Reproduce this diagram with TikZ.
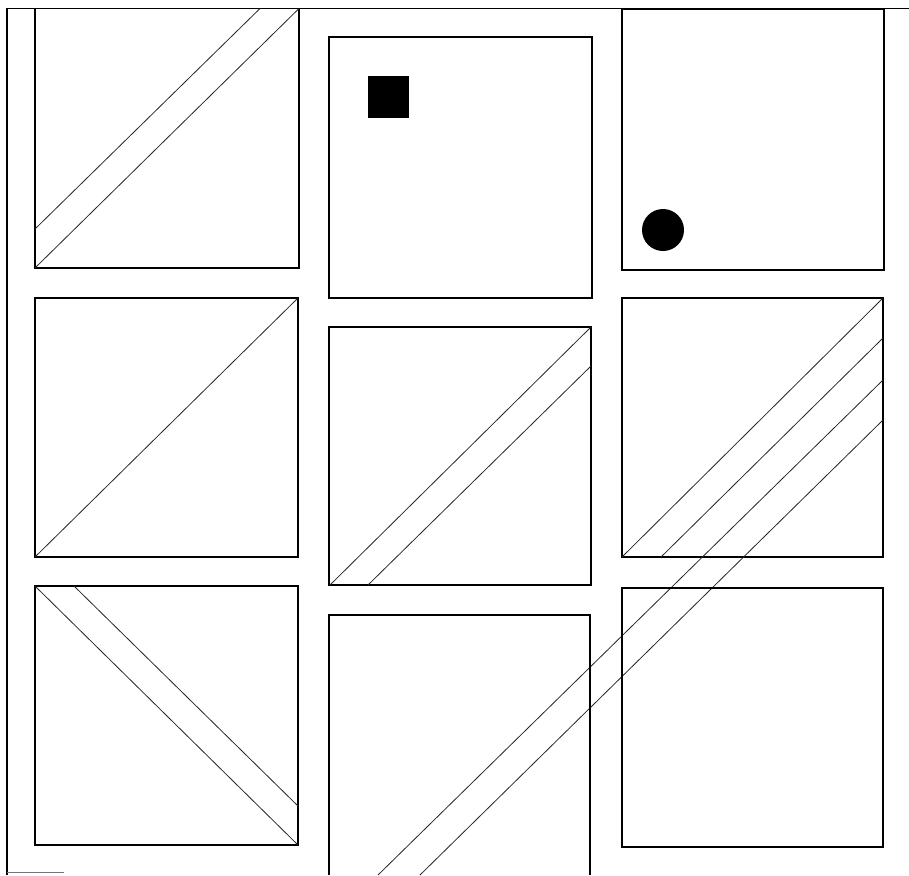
\documentclass[tikz,border=0pt]{standalone}
\begin{document}
\begin{tikzpicture}[x=0.75pt,y=-0.75pt,
  frame/.style={line width=0.9, black},
  panel/.style={line width=0.9, black},
  stripe/.style={line width=0.6, black!85},
  blob/.style={fill=black, draw=none}]
\useasboundingbox (0,0) rectangle (909,875);
% outer frame
\coordinate (tl) at (7,8.5);
\coordinate (tr) at (909,8.5);
\coordinate (bl) at (7,875);
\draw[frame] (bl) -- (tl) -- (tr);
\coordinate (fa) at (7,872);
\coordinate (fb) at (64,872);
\draw[line width=0.5, black!55] (fa) -- (fb);
% row 1
\draw[panel] (35,8.5) rectangle (299,268);
\draw[stripe] (35,229) -- (260,8.5);
\draw[stripe] (35,268) -- (299,8.5);
\draw[panel] (329,37) rectangle (592,298);
\fill[blob] (368,76) rectangle (409,118);
\draw[panel] (622,9) rectangle (884,270);
\fill[blob] (663,230) circle (21);
% row 2
\draw[panel] (35,298) rectangle (298,557);
\draw[stripe] (35,557) -- (298,298);
\draw[panel] (329,327) rectangle (591,585);
\draw[stripe] (330,585) -- (591,327);
\draw[stripe] (368,585) -- (591,366);
\draw[panel] (622,298) rectangle (883,557);
\draw[stripe] (622,557) -- (883,298);
\draw[stripe] (661,557) -- (883,338);
\draw[stripe] (883,380) -- (378,875);
\draw[stripe] (883,420) -- (420,875);
% row 3
\draw[panel] (35,586) rectangle (298,845);
\draw[stripe] (35,586) -- (298,845);
\draw[stripe] (74,586) -- (298,806);
\draw[panel] (329,875) -- (329,615) -- (590,615) -- (590,875);
\draw[panel] (622,588) rectangle (883,847);
\end{tikzpicture}
\end{document}
